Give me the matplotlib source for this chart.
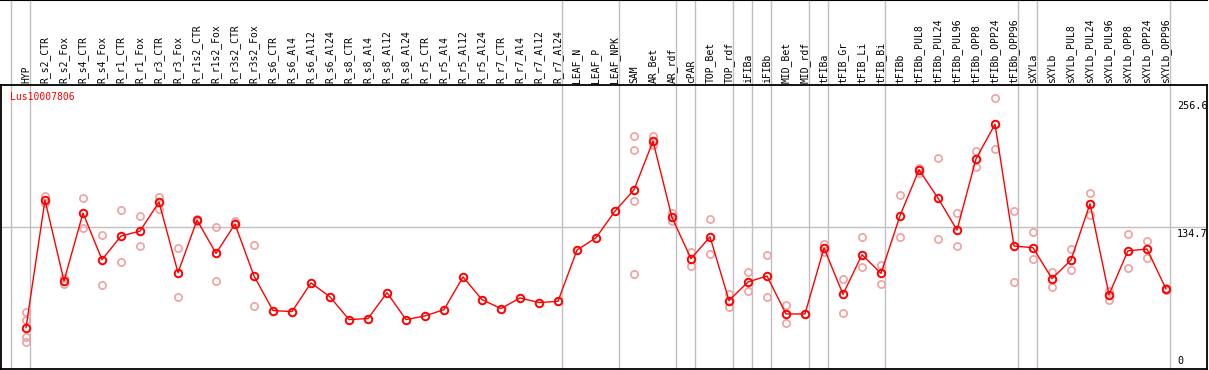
import numpy as np
import matplotlib
matplotlib.use("Agg")
import matplotlib.pyplot as plt
import matplotlib.transforms as mtransforms

# =============================================================================
# DATOS
# =============================================================================

gene = "Lus10007806"

samples = ["HYP", "R_s2_CTR", "R_s2_Fox", "R_s4_CTR", "R_s4_Fox", "R_r1_CTR",
           "R_r1_Fox", "R_r3_CTR", "R_r3_Fox", "R_r1s2_CTR", "R_r1s2_Fox",
           "R_r3s2_CTR", "R_r3s2_Fox", "R_s6_CTR", "R_s6_Al4", "R_s6_Al12",
           "R_s6_Al24", "R_s8_CTR", "R_s8_Al4", "R_s8_Al12", "R_s8_Al24",
           "R_r5_CTR", "R_r5_Al4", "R_r5_Al12", "R_r5_Al24", "R_r7_CTR",
           "R_r7_Al4", "R_r7_Al12", "R_r7_Al24", "LEAF_N", "LEAF_P", "LEAF_NPK",
           "SAM", "AR_Bet", "AR_rdf", "cPAR", "TOP_Bet", "TOP_rdf", "iFIBa",
           "iFIBb", "MID_Bet", "MID_rdf", "tFIBa", "tFIB_Gr", "tFIB_Li",
           "tFIB_Bi", "tFIBb", "tFIBb_PUL8", "tFIBb_PUL24", "tFIBb_PUL96",
           "tFIBb_OPP8", "tFIBb_OPP24", "tFIBb_OPP96", "sXYLa", "sXYLb",
           "sXYLb_PUL8", "sXYLb_PUL24", "sXYLb_PUL96", "sXYLb_OPP8",
           "sXYLb_OPP24", "sXYLb_OPP96"]

# media por muestra
means = [39.4, 160.7, 83.8, 148.3, 104.0, 126.5, 131.2, 158.8, 91.6, 141.7,
         110.0, 137.9, 88.5, 55.6, 54.6, 81.9, 68.6, 47.0, 48.0, 72.6,
         47.0, 50.5, 56.5, 87.6, 66.0, 57.5, 67.6, 63.2, 64.4, 113.2,
         124.9, 150.2, 170.5, 216.7, 144.2, 104.9, 125.8, 65.1, 82.8, 88.5,
         52.4, 52.4, 115.1, 71.1, 108.7, 91.0, 145.8, 189.5, 162.6, 132.2,
         199.9, 232.9, 117.0, 115.4, 85.9, 103.7, 157.2, 70.8, 112.5, 114.1,
         76.2]

# replicas (vacio = sin replicas)
reps = [[54.6, 47.0, 30.6, 25.8], [164.8, 158.4], [86.2, 81.2], [162.6, 134.4],
        [127.4, 80.0], [151.2, 101.8], [145.8, 117.0], [164.1, 152.7],
        [115.1, 68.6], [142.5, 140.8], [135.0, 83.8], [140.4, 138.8],
        [117.9, 60.0], [], [], [], [], [], [], [], [], [], [], [], [], [], [],
        [], [], [], [], [],
        [221.7, 208.2, 159.7, 90.4], [221.7, 213.2], [148.3, 140.4],
        [111.6, 97.6], [142.6, 109.4], [71.7, 58.7], [92.6, 74.3],
        [108.4, 68.6], [61.3, 43.9], [52.4], [119.2, 110.9], [85.7, 53.7],
        [125.5, 97.1], [98.6, 80.9], [165.4, 125.8], [191.6, 186.9],
        [200.6, 123.9], [148.3, 117.3], [207.5, 192.0], [257.5, 209.1],
        [150.2, 82.8], [130.3, 104.7], [92.3, 78.1], [114.1, 94.2],
        [167.3, 146.1], [74.3, 66.0], [128.4, 96.4], [122.0, 105.6],
        [76.8, 75.5]]

# fin de cada grupo de muestras (lineas grises)
group_ends = [-1, 0, 28, 31, 34, 35, 37, 38, 39, 41, 42, 45, 52, 53, 60]

ymax_label = 256.6
ymid_label = 134.7

# =============================================================================
# GRAFICA
# =============================================================================

W, H = 1209, 370
fig = plt.figure(figsize=(W / 100, H / 100), dpi=100)

x = np.arange(len(samples))
xlim = ((1 - 26) / 19, (1207 - 26) / 19)
gray = "#c0c0c0"
pink = "#f0a0a0"
mono = "DejaVu Sans Mono"

# zona de etiquetas
axl = fig.add_axes([1 / W, 285 / H, 1206 / W, 85 / H])
axl.set_xlim(*xlim)
axl.set_ylim(0, 1)
axl.set_xticks([])
axl.set_yticks([])
for s in ["left", "right", "bottom"]:
    axl.spines[s].set_visible(False)
axl.spines["top"].set_linewidth(1.5)
for g in group_ends:
    axl.axvline(g + 0.22, color=gray, lw=1)
for i, name in enumerate(samples):
    axl.text(i, 0.025, name, rotation=90, ha="center", va="bottom",
             fontsize=7, family=mono, color="black")

# zona de la grafica
ax = fig.add_axes([1 / W, 1 / H, 1206 / W, 284 / H])
ax.set_xlim(*xlim)
ax.set_ylim(0, 270.2)
ax.set_xticks([])
ax.set_yticks([])
for s in ax.spines.values():
    s.set_linewidth(1.3)
    s.set_color("black")

for g in group_ends:
    ax.axvline(g + 0.22, color=gray, lw=1, zorder=1)
ax.axhline(ymid_label, color=gray, lw=1, zorder=1)

rx = [i for i, r in enumerate(reps) for v in r]
ry = [v for r in reps for v in r]
ax.plot(rx, ry, "o", ls="none", mfc="none", mec=pink, ms=5.2, mew=1.2, zorder=2)
ax.plot(x, means, "-", color="red", lw=1, zorder=3)
ax.plot(x, means, "o", ls="none", mfc="none", mec="red", ms=5.4, mew=1.4,
        zorder=4)

ax.text(9 / 1206, 1 - 12 / 284, gene, transform=ax.transAxes, color="red",
        fontsize=7, family=mono, va="center", ha="left")

trans = mtransforms.blended_transform_factory(ax.transAxes, ax.transData)
xr = (1177 - 1) / 1206
ax.text(xr, ymax_label - 1.5, "%.1f" % ymax_label, transform=trans,
        fontsize=7.3, family=mono, va="top", ha="left")
ax.text(xr, ymid_label - 1.5, "%.1f" % ymid_label, transform=trans,
        fontsize=7.3, family=mono, va="top", ha="left")
ax.text(xr, 3, "0", transform=trans, fontsize=7.3, family=mono,
        va="bottom", ha="left")

fig.savefig("out.png", dpi=100)
